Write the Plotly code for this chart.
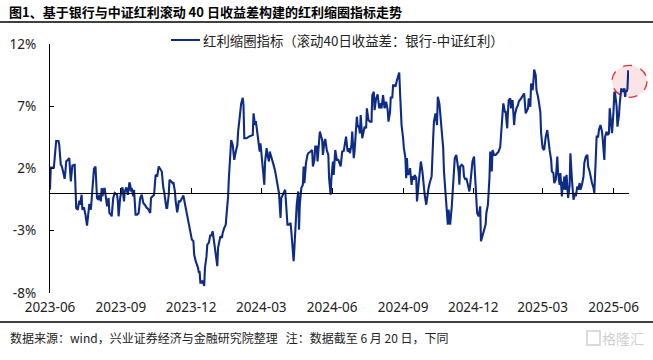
import plotly.graph_objects as go

dates = [
"2023-06-01","2023-06-02","2023-06-06","2023-06-07","2023-06-09","2023-06-12","2023-06-13","2023-06-15","2023-06-16","2023-06-18",
"2023-06-20","2023-06-21","2023-06-22","2023-06-25","2023-06-26","2023-06-28","2023-06-29","2023-06-30","2023-07-03","2023-07-04",
"2023-07-05","2023-07-07","2023-07-08","2023-07-09","2023-07-10","2023-07-12","2023-07-13","2023-07-15","2023-07-17","2023-07-19",
"2023-07-21","2023-07-22","2023-07-24","2023-07-26","2023-07-28","2023-07-30","2023-08-01","2023-08-03","2023-08-04","2023-08-06",
"2023-08-07","2023-08-08","2023-08-10","2023-08-11","2023-08-14","2023-08-16","2023-08-17","2023-08-19","2023-08-20","2023-08-22",
"2023-08-24","2023-08-27","2023-08-28","2023-08-29","2023-08-31","2023-09-02","2023-09-03","2023-09-05","2023-09-06","2023-09-08",
"2023-09-10","2023-09-12","2023-09-13","2023-09-14","2023-09-15","2023-09-17","2023-09-18","2023-09-20","2023-09-22","2023-09-24",
"2023-09-26","2023-09-28","2023-09-30","2023-10-02","2023-10-04","2023-10-07","2023-10-09","2023-10-10","2023-10-12","2023-10-14",
"2023-10-16","2023-10-18","2023-10-20","2023-10-22","2023-10-24","2023-10-26","2023-10-27","2023-10-29","2023-10-30","2023-10-31",
"2023-11-02","2023-11-03","2023-11-05","2023-11-07","2023-11-08","2023-11-10","2023-11-11","2023-11-13","2023-11-14","2023-11-15",
"2023-11-17","2023-11-19","2023-11-21","2023-11-22","2023-11-24","2023-11-26","2023-11-28","2023-11-30","2023-12-02","2023-12-04",
"2023-12-05","2023-12-07","2023-12-10","2023-12-11","2023-12-12","2023-12-13","2023-12-15","2023-12-16","2023-12-18","2023-12-19",
"2023-12-21","2023-12-22","2023-12-24","2023-12-26","2023-12-27","2023-12-29","2023-12-30","2024-01-01","2024-01-02","2024-01-04",
"2024-01-05","2024-01-07","2024-01-08","2024-01-10","2024-01-11","2024-01-13","2024-01-15","2024-01-16","2024-01-18","2024-01-19",
"2024-01-21","2024-01-22","2024-01-24","2024-01-26","2024-01-28","2024-01-30","2024-01-31","2024-02-02","2024-02-03","2024-02-04",
"2024-02-06","2024-02-07","2024-02-08","2024-02-11","2024-02-14","2024-02-17","2024-02-19","2024-02-20","2024-02-22","2024-02-23",
"2024-02-25","2024-02-27","2024-02-28","2024-02-29","2024-03-02","2024-03-03","2024-03-05","2024-03-06","2024-03-08","2024-03-09",
"2024-03-11","2024-03-12","2024-03-14","2024-03-15","2024-03-17","2024-03-19","2024-03-21","2024-03-23","2024-03-24","2024-03-26",
"2024-03-27","2024-03-29","2024-04-01","2024-04-02","2024-04-04","2024-04-06","2024-04-08","2024-04-09","2024-04-11","2024-04-12",
"2024-04-13","2024-04-15","2024-04-16","2024-04-18","2024-04-19","2024-04-20","2024-04-22","2024-04-24","2024-04-25","2024-04-26",
"2024-04-28","2024-04-30","2024-05-01","2024-05-04","2024-05-06","2024-05-07","2024-05-09","2024-05-10","2024-05-12","2024-05-13",
"2024-05-15","2024-05-16","2024-05-19","2024-05-20","2024-05-22","2024-05-23","2024-05-25","2024-05-27","2024-05-28","2024-05-30",
"2024-05-31","2024-06-02","2024-06-03","2024-06-05","2024-06-07","2024-06-09","2024-06-12","2024-06-14","2024-06-16","2024-06-18",
"2024-06-19","2024-06-21","2024-06-23","2024-06-24","2024-06-26","2024-06-27","2024-06-29","2024-06-30","2024-07-02","2024-07-03",
"2024-07-04","2024-07-06","2024-07-07","2024-07-08","2024-07-10","2024-07-12","2024-07-13","2024-07-15","2024-07-16","2024-07-18",
"2024-07-20","2024-07-22","2024-07-23","2024-07-25","2024-07-26","2024-07-28","2024-07-30","2024-08-01","2024-08-02","2024-08-04",
"2024-08-06","2024-08-08","2024-08-10","2024-08-12","2024-08-13","2024-08-15","2024-08-16","2024-08-18","2024-08-19","2024-08-21",
"2024-08-22","2024-08-24","2024-08-26","2024-08-27","2024-08-28","2024-08-30","2024-09-01","2024-09-02","2024-09-04","2024-09-05",
"2024-09-06","2024-09-07","2024-09-09","2024-09-10","2024-09-12","2024-09-13","2024-09-15","2024-09-16","2024-09-18","2024-09-19",
"2024-09-21","2024-09-22","2024-09-24","2024-09-26","2024-09-28","2024-09-29","2024-10-01","2024-10-02","2024-10-04","2024-10-06",
"2024-10-08","2024-10-10","2024-10-11","2024-10-13","2024-10-15","2024-10-16","2024-10-18","2024-10-19","2024-10-21","2024-10-23",
"2024-10-24","2024-10-26","2024-10-28","2024-10-29","2024-10-30","2024-11-01","2024-11-03","2024-11-04","2024-11-06","2024-11-07",
"2024-11-09","2024-11-10","2024-11-12","2024-11-13","2024-11-14","2024-11-16","2024-11-18","2024-11-19","2024-11-21","2024-11-22",
"2024-11-24","2024-11-26","2024-11-27","2024-11-28","2024-11-30","2024-12-02","2024-12-03","2024-12-05","2024-12-06","2024-12-08",
"2024-12-10","2024-12-11","2024-12-13","2024-12-15","2024-12-17","2024-12-18","2024-12-20","2024-12-22","2024-12-23","2024-12-25",
"2024-12-26","2024-12-28","2024-12-30","2025-01-01","2025-01-03","2025-01-05","2025-01-06","2025-01-08","2025-01-09","2025-01-11",
"2025-01-12","2025-01-14","2025-01-15","2025-01-16","2025-01-18","2025-01-19","2025-01-21","2025-01-23","2025-01-24","2025-01-26",
"2025-01-28","2025-01-29","2025-02-01","2025-02-03","2025-02-05","2025-02-07","2025-02-08","2025-02-10","2025-02-11","2025-02-13",
"2025-02-14","2025-02-16","2025-02-17","2025-02-18","2025-02-20","2025-02-21","2025-02-23","2025-02-24","2025-02-26","2025-02-27",
"2025-02-28","2025-03-01","2025-03-03","2025-03-05","2025-03-07","2025-03-08","2025-03-10","2025-03-12","2025-03-13","2025-03-15",
"2025-03-16","2025-03-18","2025-03-19","2025-03-20","2025-03-21","2025-03-23","2025-03-24","2025-03-26","2025-03-27","2025-03-28",
"2025-03-29","2025-03-31","2025-04-01","2025-04-02","2025-04-03","2025-04-05","2025-04-06","2025-04-08","2025-04-09","2025-04-10",
"2025-04-12","2025-04-13","2025-04-15","2025-04-16","2025-04-18","2025-04-19","2025-04-21","2025-04-23","2025-04-24","2025-04-26",
"2025-04-28","2025-04-29","2025-05-01","2025-05-02","2025-05-04","2025-05-06","2025-05-07","2025-05-09","2025-05-10","2025-05-12",
"2025-05-13","2025-05-15","2025-05-17","2025-05-18","2025-05-20","2025-05-21","2025-05-23","2025-05-24","2025-05-26","2025-05-27",
"2025-05-29","2025-05-30","2025-06-01","2025-06-02","2025-06-03","2025-06-05","2025-06-06","2025-06-08","2025-06-09","2025-06-10",
"2025-06-11","2025-06-13","2025-06-15","2025-06-16","2025-06-17","2025-06-18","2025-06-19","2025-06-20",
]

spread = [
0.29,2.08,2.08,2.83,4.21,4.21,3.89,2.29,2.24,1.76,
1.17,1.76,2.56,2.77,2.83,0.96,1.49,2.24,2.29,0.96,
-1.17,-1.31,-0.64,-0.59,-0.91,-0.11,-1.31,-1.12,-1.71,-2.59,
-1.44,-0.85,-1.31,0.56,1.97,2.16,-0.37,-0.51,-0.11,-0.64,
0.43,-0.24,0.37,0.37,-1.04,-0.37,-1.57,-1.71,-1.84,-0.37,
0.03,-0.11,-0.64,-1.84,-0.37,0.29,0.48,-0.64,0.16,0.48,
-0.11,0.88,0.69,0.16,0.43,-0.24,0.29,-1.71,-1.71,-1.57,
-0.37,-0.11,-0.77,-0.91,-1.12,-1.31,-1.57,-0.37,-0.19,-0.11,
1.49,1.36,2.16,1.97,1.76,0.43,0.16,-0.77,-1.17,-1.17,
-0.11,1.09,0.96,0.83,0.91,0.16,-0.64,-1.52,-1.17,-0.64,
-0.64,-0.43,-0.16,-0.51,-1.17,-1.71,-2.51,-3.31,-3.71,-3.84,
-4.91,-5.44,-5.97,-6.37,-6.24,-7.17,-7.17,-6.99,-7.44,-5.97,
-5.04,-4.11,-3.97,-3.31,-3.44,-3.04,-3.57,-4.37,-5.17,-5.84,
-4.37,-3.84,-3.44,-3.57,-3.17,-2.77,-2.51,-1.71,-0.24,1.23,
2.83,4.29,3.89,2.69,3.36,3.89,4.96,6.03,6.29,7.23,
7.68,7.09,4.43,4.43,4.56,4.64,4.69,6.43,5.49,5.81,
4.96,4.16,3.36,4.03,2.56,1.49,0.69,2.56,3.63,3.09,
2.56,3.36,2.83,2.69,2.29,1.80,1.10,0.40,0.03,-1.97,
-0.37,-0.11,0.29,-0.64,-2.51,-2.51,-2.37,-3.04,-4.77,-5.44,
-4.37,-2.24,-0.91,0.16,-2.91,-0.91,0.43,0.69,2.16,0.83,
2.43,3.09,3.23,3.36,3.49,2.16,2.69,3.76,3.76,2.56,
3.89,4.96,4.29,3.09,4.16,4.37,3.49,3.09,1.23,-0.11,
1.23,2.56,1.49,3.49,2.69,2.69,2.16,3.36,3.41,4.16,
4.56,3.36,3.63,3.23,3.89,4.96,2.83,3.36,5.36,6.16,
5.49,5.23,4.83,6.29,4.43,4.96,5.36,5.23,6.83,5.89,
5.76,5.76,7.89,8.16,6.69,7.63,7.95,6.83,7.23,6.83,
7.89,6.83,7.36,6.69,5.76,6.50,7.70,7.70,8.69,8.70,
8.56,9.09,9.49,9.71,8.16,5.49,4.43,3.63,2.83,1.23,
2.83,1.49,1.63,2.03,0.69,1.36,1.09,1.49,1.23,-0.64,
0.69,1.49,2.56,1.76,0.43,-0.11,-0.91,-0.37,0.43,0.96,
1.36,4.43,5.76,6.43,5.49,7.76,7.23,6.56,5.23,3.63,
1.76,0.16,-1.44,-2.51,-1.31,-2.51,-1.17,-0.11,2.16,2.83,
3.09,2.56,1.76,0.69,2.16,2.29,2.16,1.36,1.09,1.23,
0.56,0.16,0.69,1.36,2.56,2.96,1.76,0.16,-1.57,-1.84,
-1.04,-3.84,-3.44,-3.04,-2.51,-1.57,-0.91,1.23,3.36,1.76,
3.49,3.09,3.09,3.23,3.36,3.76,4.96,6.43,7.23,6.56,
6.56,5.23,6.56,7.49,7.63,6.83,7.49,5.49,6.29,6.83,
7.09,7.36,7.63,7.89,8.03,6.43,6.56,6.83,7.63,6.96,
8.83,8.29,8.96,9.95,9.49,8.29,7.76,7.36,6.56,4.83,
3.89,3.63,3.49,4.56,5.09,4.43,3.49,2.69,1.76,1.63,
0.83,1.09,2.16,2.96,1.63,0.69,1.63,-0.24,0.96,0.29,
1.36,0.29,1.49,0.03,-0.37,0.69,3.23,1.09,-0.24,-0.51,
0.03,-0.24,0.56,0.29,0.83,0.29,0.69,1.36,2.43,2.96,
3.09,2.16,1.76,1.36,0.83,0.43,0.03,2.96,4.56,4.56,
5.09,5.49,4.96,4.29,2.69,4.56,4.96,4.69,4.83,6.83,
5.63,4.83,6.69,8.16,8.03,6.96,5.36,6.29,7.23,8.29,
8.43,8.16,8.43,7.76,8.29,8.16,8.43,9.89,
]

x_tick_dates = ["2023-06-01", "2023-09-01", "2023-12-01", "2024-03-01", "2024-06-01",
                "2024-09-01", "2024-12-01", "2025-03-01", "2025-06-01"]
x_tick_text = ["2023-06", "2023-09", "2023-12", "2024-03", "2024-06",
               "2024-09", "2024-12", "2025-03", "2025-06"]
y_ticks = [-8, -3, 2, 7, 12]
y_tick_text = ["-8%", "-3%", "2%", "7%", "12%"]

series_name = "红利缩圈指标（滚动40日收益差：银行-中证红利）"
title_text = "图1、基于银行与中证红利滚动 40 日收益差构建的红利缩圈指标走势"
source_text = "数据来源：wind，兴业证券经济与金融研究院整理   注：数据截至 6 月 20 日，下同"

FONT = "Noto Sans CJK SC"
TICK_FONT = "Noto Sans, Noto Sans CJK SC"
LINE_COLOR = "#0e2c86"
W, H = 653, 360
L, R, T, B = 50, 24, 44, 67
pw, ph = W - L - R, H - T - B

def px_x(p):
    return (p - L) / pw

def px_y(p):
    return (H - B - p) / ph

fig = go.Figure()
fig.add_trace(go.Scatter(
    x=dates, y=spread, mode="lines", name=series_name, showlegend=False,
    line=dict(color=LINE_COLOR, width=2.1),
))
# carrier trace for the zero-line axis
fig.add_trace(go.Scatter(
    x=[dates[0], dates[-1]], y=[None, None], xaxis="x2", mode="lines",
    showlegend=False, hoverinfo="skip",
))

x_range = ["2023-06-01", "2025-06-21"]

fig.update_layout(
    width=W, height=H,
    margin=dict(l=L, r=R, t=T, b=B, autoexpand=False),
    paper_bgcolor="white", plot_bgcolor="white",
    font=dict(family=FONT, size=13, color="#222"),
    showlegend=False,
    xaxis=dict(
        range=x_range, type="date", tickmode="array",
        tickvals=x_tick_dates, ticktext=x_tick_text,
        showline=False, showgrid=False, zeroline=False,
        ticks="", automargin=False, ticklabelstandoff=4, ticklabeloverflow="allow",
        tickfont=dict(family=TICK_FONT, size=13.5, color="#222"),
    ),
    xaxis2=dict(
        range=x_range, type="date", tickmode="array", tickvals=x_tick_dates,
        overlaying="x", anchor="free", position=8 / 20, side="bottom",
        showline=True, linecolor="black", linewidth=1.3,
        ticks="inside", ticklen=5, tickcolor="black", tickwidth=1,
        showticklabels=False, showgrid=False, zeroline=False, automargin=False,
    ),
    yaxis=dict(
        range=[-8, 12], tickvals=y_ticks, ticktext=y_tick_text,
        showline=True, linecolor="black", linewidth=1.3,
        ticks="inside", ticklen=4, tickcolor="black",
        showgrid=False, zeroline=False, automargin=False, ticklabelstandoff=10,
        tickfont=dict(family=TICK_FONT, size=13.5, color="#222"),
    ),
)

# legend drawn in the header strip above the plot
fig.add_shape(type="line", xref="paper", yref="paper", x0=px_x(171), x1=px_x(200),
              y0=px_y(40), y1=px_y(40), line=dict(color=LINE_COLOR, width=2))
fig.add_annotation(text=series_name, xref="paper", yref="paper",
                   x=px_x(201), y=px_y(40), xanchor="left", yanchor="middle", showarrow=False,
                   font=dict(family=FONT, size=13.4, color="#222"))

# header and footer rules
fig.add_shape(type="line", xref="paper", yref="paper", x0=px_x(0), x1=px_x(W),
              y0=px_y(22), y1=px_y(22), line=dict(color="black", width=1.5))
fig.add_shape(type="line", xref="paper", yref="paper", x0=px_x(0), x1=px_x(W),
              y0=px_y(322), y1=px_y(322), line=dict(color="black", width=1.5))

# highlight circle around the latest reading
fig.add_shape(type="circle", xref="paper", yref="y", xsizemode="pixel", ysizemode="pixel",
              xanchor=1.0, yanchor=9.0, x0=-17, x1=18, y0=-16, y1=16,
              fillcolor="rgba(244,196,200,0.45)", line=dict(color="#d8323c", width=1.3, dash="dash"),
              layer="below")

fig.add_annotation(text="<b>" + title_text + "</b>", xref="paper", yref="paper",
                   x=px_x(7), y=px_y(12), xanchor="left", yanchor="middle", showarrow=False,
                   font=dict(family=FONT, size=13, color="black"))
fig.add_annotation(text=source_text, xref="paper", yref="paper",
                   x=px_x(8), y=px_y(337), xanchor="left", yanchor="middle", showarrow=False,
                   font=dict(family=FONT, size=12, color="#222"))

# watermark logo: small bracket mark plus name
fig.add_shape(type="rect", xref="paper", yref="paper", x0=px_x(587), x1=px_x(600),
              y0=px_y(331), y1=px_y(345), line=dict(color="#cfcfcf", width=1.5))
fig.add_annotation(text="格隆汇", xref="paper", yref="paper",
                   x=px_x(646), y=px_y(338), xanchor="right", yanchor="middle", showarrow=False,
                   font=dict(family=FONT, size=14, color="#cfcfcf"))

fig.write_html("out.html", config={"displayModeBar": False},
               post_script="document.body.style.margin='0px';")
